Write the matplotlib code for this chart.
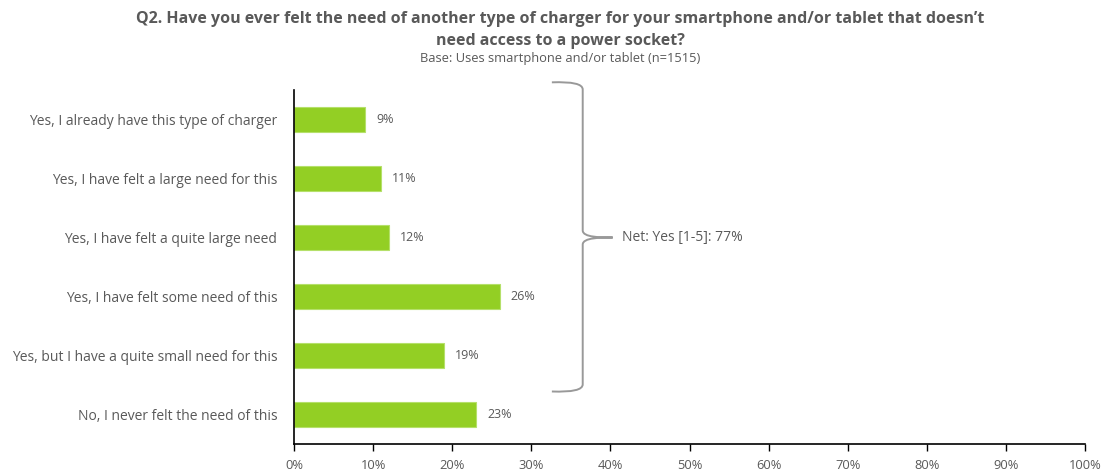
import matplotlib
matplotlib.use("Agg")
import matplotlib.pyplot as plt
from matplotlib.path import Path
from matplotlib.patches import PathPatch
from matplotlib.ticker import MultipleLocator, FuncFormatter

categories = [
    "Yes, I already have this type of charger",
    "Yes, I have felt a large need for this",
    "Yes, I have felt a quite large need",
    "Yes, I have felt some need of this",
    "Yes, but I have a quite small need for this",
    "No, I never felt the need of this",
]
values = [9, 11, 12, 26, 19, 23]
title = ("Q2. Have you ever felt the need of another type of charger for your smartphone and/or tablet that doesn\u2019t\n"
         "need access to a power socket?")
subtitle = "Base: Uses smartphone and/or tablet (n=1515)"
net_label = "Net: Yes [1-5]: 77%"

plt.rcParams['font.family'] = ['Open Sans', 'DejaVu Sans']
GRAY = "#595959"
BAR = "#93CF24"

fig = plt.figure(figsize=(11.09, 4.73), dpi=100)
ax = fig.add_axes([294/1109, 1-444/473, (1085-294)/1109, (444-90)/473])

n = len(categories)
ypos = list(range(n - 1, -1, -1))
ax.barh(ypos, values, height=0.41, color=BAR, edgecolor="#B5E06A", linewidth=0.8)
for y, v in zip(ypos, values):
    ax.annotate(f"{v}%", (v, y), xytext=(8, 0), textcoords="offset points",
                va="center", ha="left", fontsize=9, color=GRAY)

ax.set_xlim(0, 100)
ax.set_ylim(-0.5, n - 0.5)
ax.set_yticks(ypos)
ax.set_yticklabels(categories, fontsize=10, color=GRAY)
ax.tick_params(axis="y", length=0, pad=12)
ax.xaxis.set_major_locator(MultipleLocator(10))
ax.xaxis.set_major_formatter(FuncFormatter(lambda x, p: f"{int(x)}%"))
ax.tick_params(axis="x", direction="out", length=5, width=1, color="black",
               labelsize=9.3, labelcolor=GRAY, pad=6)
for s in ["top", "right"]:
    ax.spines[s].set_visible(False)
for s in ["left", "bottom"]:
    ax.spines[s].set_color("black")
    ax.spines[s].set_linewidth(1.2)

# curly brace (data coordinates)
xl, xm, xt = 32.6, 36.5, 40.3
yt, yb, ymid = 5.63, 0.39, 3.0
verts = [
    (xl, yt), (xm, yt + 0.02), (xm, yt - 0.12),
    (xm, ymid + 0.12),
    (xm, ymid), (xt - 1.5, ymid), (xt, ymid),
    (xt - 1.5, ymid), (xm, ymid), (xm, ymid - 0.12),
    (xm, yb + 0.12),
    (xm, yb - 0.02), (xl, yb),
]
codes = [Path.MOVETO, Path.CURVE3, Path.CURVE3,
         Path.LINETO,
         Path.CURVE4, Path.CURVE4, Path.CURVE4,
         Path.CURVE4, Path.CURVE4, Path.CURVE4,
         Path.LINETO,
         Path.CURVE3, Path.CURVE3]
brace = PathPatch(Path(verts, codes), facecolor="none", edgecolor="#999999",
                  linewidth=1.4, clip_on=False)
ax.add_patch(brace)
ax.text(xt + 1.2, ymid, net_label, va="center", ha="left", fontsize=10, color=GRAY)

fig.text(0.505, 1 - 30/473, title, ha="center", va="center", fontsize=11.5,
         fontweight="bold", color=GRAY, linespacing=1.5)
fig.text(0.505, 1 - 58/473, subtitle, ha="center", va="center", fontsize=9.3, color=GRAY)

fig.savefig("out.png", dpi=100)
